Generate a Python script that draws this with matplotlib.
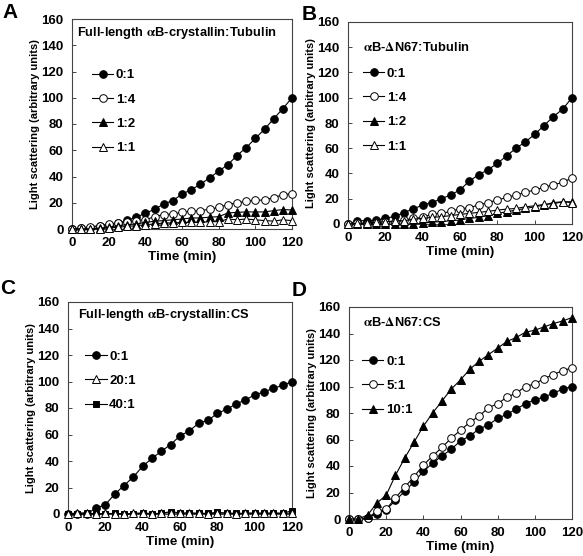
import numpy as np
import matplotlib
matplotlib.use("Agg")
import matplotlib.pyplot as plt

plt.rcParams['font.family'] = ['Liberation Sans', 'DejaVu Sans']
plt.rcParams['font.weight'] = 'bold'
plt.rcParams['mathtext.fontset'] = 'stix'

time = np.arange(0, 125, 5)

# panel A: full-length aB-crystallin : tubulin
a_01 = [0, 0.5, 1, 2, 3, 4.5, 6.5, 9, 12, 15, 19, 21.7, 26.5, 30, 34, 39, 44, 49, 56, 62, 69, 76, 84, 91.7, 100]
a_14 = [0, 0.5, 1.8, 2.5, 3.8, 4.6, 5, 6.4, 7, 9.4, 11, 11.5, 12.7, 13.5, 14, 15, 16.5, 18.6, 20, 21, 22, 22, 24, 26, 27]
a_12 = [0, 0, 0, 0.5, 1.3, 2.5, 3.3, 3.8, 5, 5.9, 6.4, 7, 7.6, 8.4, 8.4, 9, 9.4, 12.2, 12.7, 13, 13, 13, 14, 14.8, 14.5]
a_11 = [0, 0, 0, 0.3, 0.8, 1.3, 2, 2.5, 3.3, 3.8, 4.6, 4.6, 5, 5, 5, 5.6, 5.6, 7.6, 7, 7.6, 7, 6.4, 6, 7, 6.4]

# panel B: aB-dN67 : tubulin
b_01 = [0, 2.6, 2.6, 3, 4.5, 6, 9, 12, 15, 17, 20, 23, 27, 34, 39, 43, 48, 54, 60, 65, 71, 78, 85, 91, 100]
b_14 = [0, 0.5, 0.3, 0.5, 1.3, 1.8, 3.1, 4.5, 5.2, 7.9, 8.4, 10, 12, 13, 15, 17, 19, 21, 23, 25, 27, 29, 31, 33, 36.5]
b_12 = [0, 0, 0, 0, 0, 0, 0, 0, 0.5, 1.6, 1.8, 2.6, 3.1, 4.5, 5.2, 6.6, 8.4, 9.7, 11, 12.3, 13.6, 15, 17, 17.6, 17.6]
b_11 = [0, 0.5, 1, 1.3, 1.8, 2.4, 2.6, 3.7, 4.5, 5.2, 5.8, 6.6, 7.6, 8.4, 9.2, 10, 11, 11.8, 12.3, 13.6, 14.4, 15.5, 16, 17.6, 17]

# panel C: full-length aB-crystallin : CS
c_01 = [0, 0, 0, 4.5, 7, 15, 21.5, 28, 36, 42, 47.4, 52.4, 59, 62.7, 68.6, 70.6, 76, 79, 83, 86, 90, 92, 95, 97, 100]
c_201 = [0, 0.5, 1, 0, 0.5, 0.3, 0, 0.5, 0.8, 0.3, 0.5, 1, 0.5, 0.8, 0.5, 0.3, 0.6, 0.8, 0.3, 0.5, 0.8, 0.5, 0.8, 0.5, 0.6]
c_401 = [0, 0, 0.5, 0, 0, 0.5, 0, 0, 0.5, 0, 0.5, 1.8, 0.8, 0.5, 0.5, 0.5, 1.3, 0.5, 0.5, 0.5, 0.5, 0.5, 0.5, 0.5, 2.5]

# panel D: aB-dN67 : CS
d_01 = [0, 0, 1, 4, 7, 14, 21, 28, 36, 42, 47.7, 52.5, 59, 62.6, 68, 71, 76, 79, 83, 87, 90, 92, 95, 98, 100]
d_51 = [0, 0, 0.5, 6, 7.3, 16, 24, 32, 40.7, 47.5, 54, 61, 67, 73, 77.6, 84, 87, 92, 95, 100, 102, 106, 109, 112, 114]
d_101 = [0, 0, 3, 12, 18, 33, 46, 58, 70, 80, 89, 98, 105, 113, 119, 124, 129, 134, 137, 141, 142.5, 145, 147.5, 149.5, 152]

circ_f = dict(marker='o', mfc='black', mec='black')
circ_o = dict(marker='o', mfc='white', mec='black')
tri_f = dict(marker='^', mfc='black', mec='black')
tri_o = dict(marker='^', mfc='white', mec='black')
sq_f = dict(marker='s', mfc='black', mec='black', ms=4.5)

W, H = 583, 556

# letter, axes box in px (left, top, right, bottom), letter xy px, title xy (axes frac), legend anchor (axes frac)
panels = [
    ('A', (72, 19, 292, 229), (2, 13), (0.023, 0.933), (0.092, 0.762),
     'Full-length $\\mathrm{\\alpha}$B-crystallin:Tubulin',
     [(a_01, '0:1', circ_f), (a_14, '1:4', circ_o), (a_12, '1:2', tri_f), (a_11, '1:1', tri_o)]),
    ('B', (348, 22, 572, 224), (302, 14), (0.067, 0.876), (0.068, 0.775),
     '$\\mathrm{\\alpha}$B-$\\Delta$N67:Tubulin',
     [(b_01, '0:1', circ_f), (b_14, '1:4', circ_o), (b_12, '1:2', tri_f), (b_11, '1:1', tri_o)]),
    ('C', (68, 302, 292, 514), (0, 289), (0.045, 0.94), (0.078, 0.772),
     'Full-length $\\mathrm{\\alpha}$B-crystallin:CS',
     [(c_01, '0:1', circ_f), (c_401, '40:1', sq_f), (c_201, '20:1', tri_o)]),
    ('D', (349, 307, 572, 519), (292, 290), (0.063, 0.925), (0.06, 0.772),
     '$\\mathrm{\\alpha}$B-$\\Delta$N67:CS',
     [(d_01, '0:1', circ_f), (d_51, '5:1', circ_o), (d_101, '10:1', tri_f)]),
]

fig = plt.figure(figsize=(5.83, 5.56), dpi=100)

for letter, box, lxy, txy, lgxy, title, series in panels:
    l, t, r, b = box
    ax = fig.add_axes([l / W, 1 - b / H, (r - l) / W, (b - t) / H])
    lines = {}
    for vals, lab, st in series:
        kw = dict(color='black', lw=0.8, ms=5.5, mew=0.7, clip_on=False, zorder=3)
        kw.update(st)
        lines[lab], = ax.plot(time, vals, label=lab, **kw)
    ax.set_xlim(0, 120)
    ax.set_ylim(0, 160)
    ax.set_xticks(np.arange(0, 121, 20))
    ax.set_yticks(np.arange(0, 161, 20))
    ax.tick_params(direction='in', length=3, width=0.7, labelsize=9.5, color='#444444', pad=6)
    for s in ax.spines.values():
        s.set_linewidth(0.8)
        s.set_color('#444444')
    ax.set_xlabel('Time (min)', fontsize=9.7, fontweight='bold', labelpad=1)
    ax.set_ylabel('Light scattering (arbitrary units)', fontsize=8, fontweight='bold', labelpad=1)
    ax.text(txy[0], txy[1], title, transform=ax.transAxes, fontsize=9.3, fontweight='bold', va='center')
    order = [lab for _, lab, _ in sorted(series, key=lambda s: float(s[1].split(':')[0]))]
    ax.legend([lines[k] for k in order], order, loc='upper left', bbox_to_anchor=lgxy, frameon=False,
              handlelength=1.6, handletextpad=0.2, labelspacing=0.92, borderaxespad=0,
              borderpad=0, prop={'weight': 'bold', 'size': 9.5})
    fig.text(lxy[0] / W, 1 - lxy[1] / H, letter, fontsize=15, fontweight='bold', va='center', ha='left')

fig.savefig('out.png', dpi=100)
